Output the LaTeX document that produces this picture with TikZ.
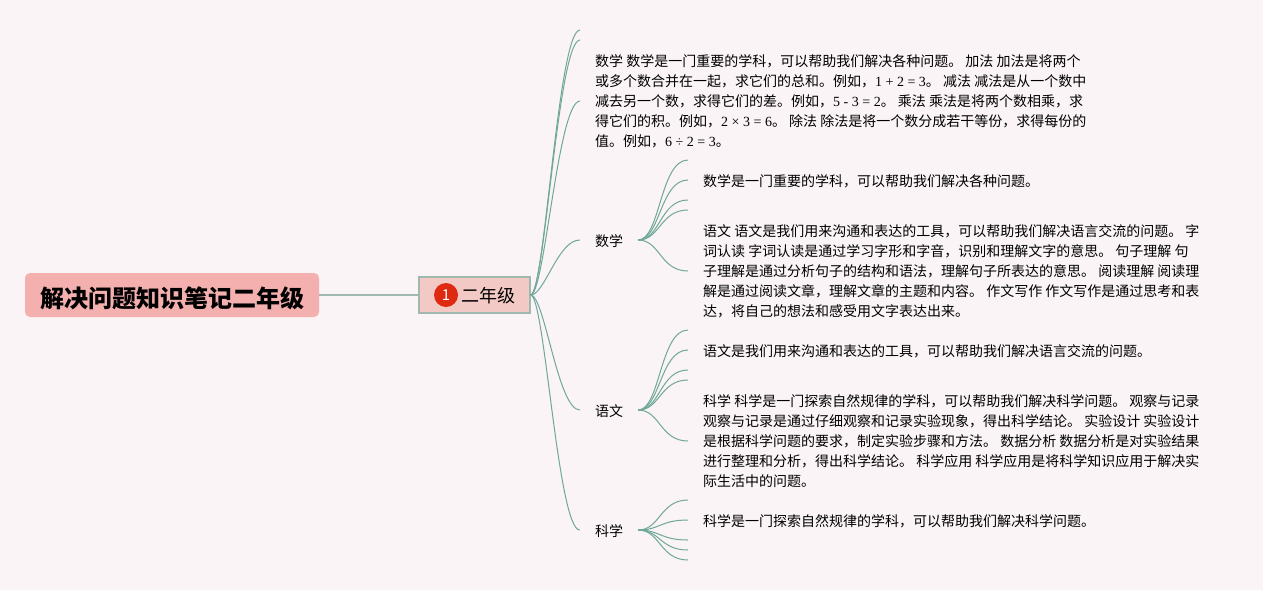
\documentclass[tikz,border=0pt]{standalone}
\usepackage{fontspec}
\setmainfont{Noto Sans CJK SC}
\newfontfamily\numfont{Liberation Serif}
\usetikzlibrary{calc}
\definecolor{pagebg}{HTML}{FAF4F6}
\definecolor{twigcol}{HTML}{6FA898}
\definecolor{rootfill}{HTML}{F4B0AE}
\definecolor{gradefill}{HTML}{F3C9C5}
\definecolor{gradeline}{HTML}{A0B8AE}
\definecolor{badgefill}{HTML}{DD2A10}
\tikzset{
	twig/.style={draw=twigcol, line width=1pt},
	rootbox/.style={fill=rootfill, rounded corners=5pt, minimum width=294pt, minimum height=44pt, inner sep=0pt, text height=26pt, text depth=2pt, font=\fontsize{24}{28}\selectfont\bfseries},
	gradebox/.style={draw=gradeline, fill=gradefill, line width=1.3pt, minimum width=111pt, minimum height=36pt, inner sep=0pt},
	topic/.style={minimum width=58pt, inner sep=0pt, text height=15pt, text depth=2pt, font=\fontsize{14}{20}\selectfont},
	leaf/.style={anchor=west, inner xsep=15pt, inner ysep=0pt, text height=15pt, text depth=2pt, font=\fontsize{14}{20}\selectfont},
	para/.style={anchor=west, align=left, inner xsep=15pt, inner ysep=0pt, font=\fontsize{14}{20}\selectfont}
}
\def\twig(#1)(#2){\draw[twig] (#1) .. controls +(22,0) and +(-28,0) .. (#2);}
\def\stem(#1)(#2){\draw[twig] (#1) .. controls +(14,0) and +(-22,0) .. (#2);}
\newcommand{\num}[1]{{\numfont #1}}
\begin{document}
\begin{tikzpicture}[x=1pt, y=-1pt]
	\fill[pagebg] (0,0) rectangle (1263,590);

	\node[rootbox] (root) at (172,295) {解决问题知识笔记二年级};
	\node[gradebox] (grade) at (474.5,295) {};
	\node[circle, fill=badgefill, minimum size=24pt, inner sep=0pt, text=white, font=\fontsize{15}{18}\selectfont] (badge) at (446,295) {1};
	\node[anchor=west, inner sep=0pt, font=\fontsize{18}{22}\selectfont] (gradetext) at (461,296) {二年级};
	\draw[draw=gradeline, line width=1.3pt] (root) -- (grade);

	\node[topic] (maths) at (609,240) {数学};
	\node[topic] (chinese) at (609,410) {语文};
	\node[topic] (science) at (609,530) {科学};

	\coordinate (top1) at (580,30);
	\coordinate (top2) at (580,40);
	\node[para] (overview) at (580,101) {数学 数学是一门重要的学科，可以帮助我们解决各种问题。 加法 加法是将两个\\或多个数合并在一起，求它们的总和。例如，\num{1 + 2 = 3}。 减法 减法是从一个数中\\减去另一个数，求得它们的差。例如，\num{5 - 3 = 2}。 乘法 乘法是将两个数相乘，求\\得它们的积。例如，\num{2 × 3 = 6}。 除法 除法是将一个数分成若干等份，求得每份的\\值。例如，\num{6 ÷ 2 = 3}。};

	\stem(grade.east)(top1)
	\stem(grade.east)(top2)
	\stem(grade.east)(overview.west)
	\stem(grade.east)(maths.west)
	\stem(grade.east)(chinese.west)
	\stem(grade.east)(science.west)

	% maths
	\coordinate (ma1) at (688,160);
	\node[leaf] (ma2) at (688,180) {数学是一门重要的学科，可以帮助我们解决各种问题。};
	\coordinate (ma3) at (688,200);
	\coordinate (ma4) at (688,210);
	\node[para] (ma5) at (688,271) {语文 语文是我们用来沟通和表达的工具，可以帮助我们解决语言交流的问题。 字\\词认读 字词认读是通过学习字形和字音，识别和理解文字的意思。 句子理解 句\\子理解是通过分析句子的结构和语法，理解句子所表达的意思。 阅读理解 阅读理\\解是通过阅读文章，理解文章的主题和内容。 作文写作 作文写作是通过思考和表\\达，将自己的想法和感受用文字表达出来。};
	\twig(maths.east)(ma1)
	\twig(maths.east)(ma2.west)
	\twig(maths.east)(ma3)
	\twig(maths.east)(ma4)
	\twig(maths.east)(ma5.west)

	% chinese
	\coordinate (ch1) at (688,330);
	\node[leaf] (ch2) at (688,350) {语文是我们用来沟通和表达的工具，可以帮助我们解决语言交流的问题。};
	\coordinate (ch3) at (688,370);
	\coordinate (ch4) at (688,380);
	\node[para] (ch5) at (688,441) {科学 科学是一门探索自然规律的学科，可以帮助我们解决科学问题。 观察与记录\\观察与记录是通过仔细观察和记录实验现象，得出科学结论。 实验设计 实验设计\\是根据科学问题的要求，制定实验步骤和方法。 数据分析 数据分析是对实验结果\\进行整理和分析，得出科学结论。 科学应用 科学应用是将科学知识应用于解决实\\际生活中的问题。};
	\twig(chinese.east)(ch1)
	\twig(chinese.east)(ch2.west)
	\twig(chinese.east)(ch3)
	\twig(chinese.east)(ch4)
	\twig(chinese.east)(ch5.west)

	% science
	\coordinate (sc1) at (688,500);
	\node[leaf] (sc2) at (688,520) {科学是一门探索自然规律的学科，可以帮助我们解决科学问题。};
	\coordinate (sc3) at (688,540);
	\coordinate (sc4) at (688,550);
	\coordinate (sc5) at (688,560);
	\twig(science.east)(sc1)
	\twig(science.east)(sc2.west)
	\twig(science.east)(sc3)
	\twig(science.east)(sc4)
	\twig(science.east)(sc5)
\end{tikzpicture}
\end{document}
